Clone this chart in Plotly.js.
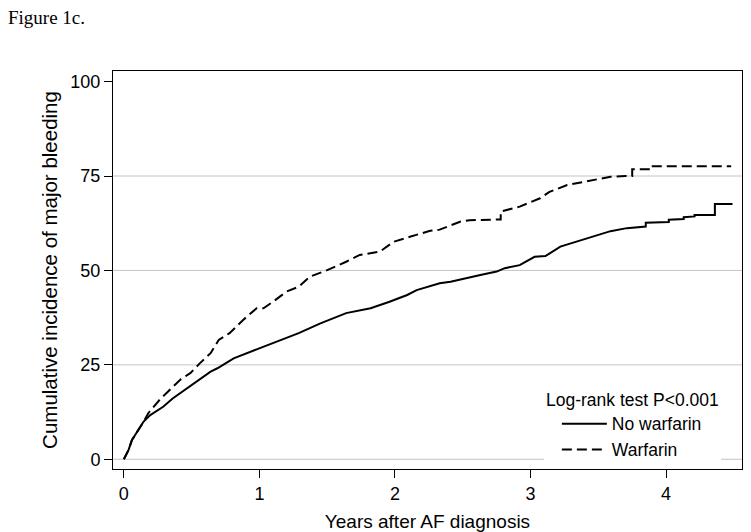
<!DOCTYPE html>
<html>
<head>
<meta charset="utf-8">
<script src="https://cdn.plot.ly/plotly-3.0.1.min.js"></script>
<style>html,body{margin:0;padding:0;background:#fff;}#chart{width:751px;height:532px;}</style>
</head>
<body>
<div id="chart"></div>
<script>
// Years after AF diagnosis / cumulative incidence (%) of major bleeding
const noWarfarinYears = [0, 0.035, 0.06, 0.10, 0.146, 0.195, 0.29, 0.36, 0.47, 0.55, 0.64, 0.69, 0.81, 0.98, 1.13, 1.29, 1.45, 1.64, 1.82, 1.96, 2.09, 2.16, 2.33, 2.41, 2.63, 2.75, 2.81, 2.92, 3.03, 3.11, 3.22, 3.39, 3.49, 3.59, 3.71, 3.83, 3.85, 3.85, 4.00, 4.02, 4.02, 4.13, 4.13, 4.21, 4.21, 4.36, 4.36, 4.49];
const noWarfarin = [0, 2.5, 5.1, 7.3, 10.0, 11.7, 13.9, 16.1, 18.8, 20.9, 23.2, 24.1, 26.7, 29.1, 31.1, 33.4, 36.0, 38.7, 40.0, 41.7, 43.5, 44.8, 46.6, 47.0, 48.8, 49.7, 50.6, 51.4, 53.6, 53.8, 56.3, 58.2, 59.4, 60.4, 61.2, 61.6, 61.6, 62.6, 62.8, 62.8, 63.4, 63.6, 64.1, 64.3, 64.7, 64.7, 67.6, 67.6];
const warfarinYears = [0, 0.035, 0.06, 0.10, 0.146, 0.18, 0.27, 0.42, 0.49, 0.56, 0.64, 0.70, 0.78, 0.88, 0.98, 1.03, 1.10, 1.20, 1.29, 1.37, 1.50, 1.64, 1.74, 1.89, 1.99, 2.11, 2.26, 2.33, 2.48, 2.55, 2.78, 2.78, 2.92, 3.07, 3.14, 3.27, 3.46, 3.59, 3.70, 3.75, 3.75, 3.88, 3.88, 4.48];
const warfarin = [0, 2.5, 5.1, 7.3, 10.0, 12.2, 16.0, 21.2, 22.8, 25.4, 28.1, 31.6, 33.4, 36.9, 40.0, 40.0, 41.7, 44.4, 45.7, 48.3, 50.1, 52.3, 54.1, 55.0, 57.6, 58.9, 60.5, 60.8, 62.9, 63.3, 63.5, 65.6, 66.9, 69.1, 70.8, 72.6, 73.9, 74.8, 75.0, 75.0, 76.8, 76.8, 77.6, 77.6];
const yTicks = [0, 25, 50, 75, 100];
const xTicks = [0, 1, 2, 3, 4];
const gridVals = [0, 25, 50, 75];

const font = "Liberation Sans, Arial, Helvetica, sans-serif";

const traces = [
  {x: noWarfarinYears, y: noWarfarin, name: "No warfarin", type: "scatter", mode: "lines",
   line: {color: "#000", width: 2}},
  {x: warfarinYears, y: warfarin, name: "Warfarin", type: "scatter", mode: "lines",
   line: {color: "#000", width: 2, dash: "10px,5px"}}
];

const shapes = gridVals.map(v => ({
  type: "line", xref: "paper", x0: 0, x1: 1, yref: "y", y0: v, y1: v,
  line: {color: "#c4c4c4", width: 1}, layer: "below"
}));

const layout = {
  width: 751, height: 532,
  paper_bgcolor: "#fff", plot_bgcolor: "#fff",
  margin: {l: 113, r: 9, t: 71, b: 63},
  font: {family: font, size: 19, color: "#000"},
  title: {text: "Figure 1c.", x: 8/751, xanchor: "left", xref: "container",
          y: 1 - 17/532, yanchor: "middle", yref: "container",
          font: {family: "Liberation Serif, Times New Roman, serif", size: 19, color: "#000"}},
  xaxis: {
    range: [-0.08, 4.56], tickvals: xTicks, ticktext: xTicks.map(String),
    ticks: "outside", ticklen: 8, tickcolor: "#000", tickwidth: 1,
    showline: true, linecolor: "#000", linewidth: 1, mirror: true,
    showgrid: false, zeroline: false,
    tickfont: {family: font, size: 18},
    title: {text: "Years after AF diagnosis", font: {family: font, size: 19}}
  },
  yaxis: {
    range: [-2.57, 102.8], tickvals: yTicks, ticktext: yTicks.map(String),
    ticks: "outside", ticklen: 8, tickcolor: "#000", tickwidth: 1,
    showline: true, linecolor: "#000", linewidth: 1, mirror: true,
    showgrid: false, zeroline: false,
    tickfont: {family: font, size: 18},
    automargin: true,
    title: {text: "Cumulative incidence of major bleeding", font: {family: font, size: 20.5}, standoff: 7}
  },
  shapes: shapes,
  showlegend: true,
  legend: {
    x: 0.685, xanchor: "left", y: 0.216, yanchor: "top",
    bgcolor: "#fff", borderwidth: 0,
    font: {family: font, size: 17.5},
    title: {text: "Log-rank test P<0.001", side: "top center", font: {family: font, size: 17.5}},
    tracegroupgap: 0, itemwidth: 45, indentation: 13
  }
};

Plotly.newPlot("chart", traces, layout, {displayModeBar: false, staticPlot: true});
</script>
</body>
</html>
